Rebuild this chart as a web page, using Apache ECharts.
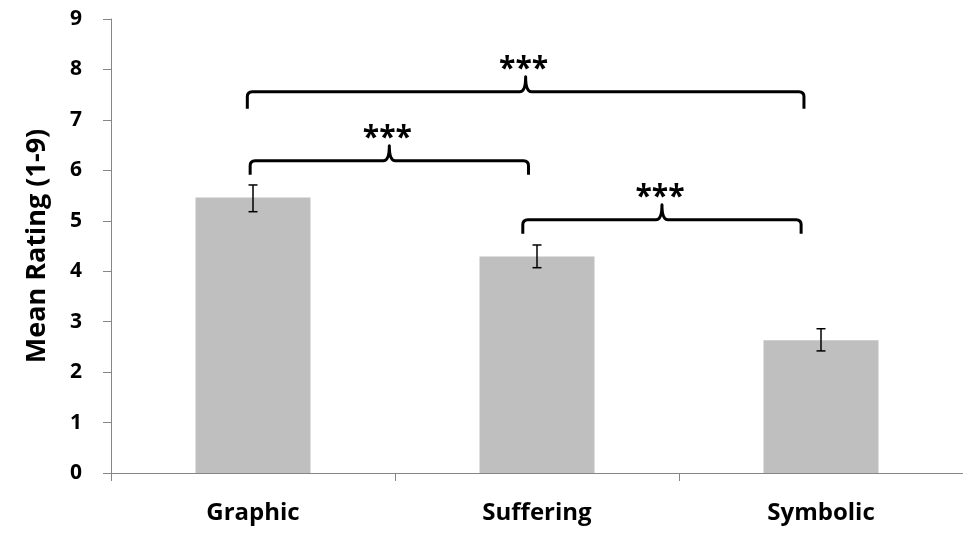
<!DOCTYPE html>
<html>
<head>
<meta charset="utf-8">
<script src="https://cdn.jsdelivr.net/npm/echarts@6/dist/echarts.min.js"></script>
<style>
html,body{margin:0;padding:0;background:#fff;}
#chart{width:963px;height:533px;}
</style>
</head>
<body>
<div id="chart"></div>
<script>
// ---- data ----
const categories = ['Graphic', 'Suffering', 'Symbolic'];
const means = [5.46, 4.29, 2.63];
const errLow = [5.18, 4.07, 2.42];
const errHigh = [5.71, 4.52, 2.86];
const yTicks = [0, 1, 2, 3, 4, 5, 6, 7, 8, 9];
// significance brackets: left end, right end (category units), height, label
const bracketFrom = [-0.02, -0.01, 0.95];
const bracketTo = [1.94, 0.97, 1.93];
const bracketY = [7.56, 6.19, 5.02];
const bracketLabels = ['***', '***', '***'];

const FONT = '"Open Sans"';
const chart = echarts.init(document.getElementById('chart'), null, {renderer: 'canvas'});

const errData = categories.map((c, i) => [i, errLow[i], errHigh[i]]);
const bracketData = bracketFrom.map((f, i) => [f, bracketTo[i], bracketY[i], i]);

chart.setOption({
  animation: false,
  backgroundColor: '#ffffff',
  grid: {left: 111, top: 19, width: 858, height: 454},
  xAxis: [{
    type: 'category',
    data: categories,
    axisLine: {lineStyle: {color: '#868686', width: 1}},
    axisTick: {show: true, length: 8, lineStyle: {color: '#868686'}},
    axisLabel: {color: '#000', fontFamily: FONT, fontWeight: 'bold', fontSize: 24, margin: 28}
  }, {
    type: 'value', min: -0.5, max: 2.5, show: false
  }],
  yAxis: {
    type: 'value', min: 0, max: 9, interval: 1,
    name: 'Mean Rating (1-9)',
    nameLocation: 'middle', nameGap: 60,
    nameTextStyle: {color: '#000', fontFamily: FONT, fontWeight: 'bold', fontSize: 27},
    axisLine: {show: true, onZero: false, lineStyle: {color: '#868686', width: 1}},
    axisTick: {show: true, length: 8, lineStyle: {color: '#868686'}},
    splitLine: {show: false},
    axisLabel: {color: '#000', fontFamily: FONT, fontWeight: 'bold', fontSize: 21, margin: 29,
      formatter: v => yTicks.includes(v) ? String(v) : ''}
  },
  series: [{
    type: 'bar',
    data: means,
    barWidth: 115,
    itemStyle: {color: '#bfbfbf'},
    z: 2
  }, {
    type: 'custom',
    xAxisIndex: 1,
    data: errData,
    z: 5,
    renderItem: function (params, api) {
      const lo = api.coord([api.value(0), api.value(1)]);
      const hi = api.coord([api.value(0), api.value(2)]);
      const w = 4.5;
      const st = {stroke: '#000', lineWidth: 1.5};
      return {type: 'group', children: [
        {type: 'line', shape: {x1: lo[0], y1: lo[1], x2: hi[0], y2: hi[1]}, style: st},
        {type: 'line', shape: {x1: lo[0] - w, y1: lo[1], x2: lo[0] + w, y2: lo[1]}, style: st},
        {type: 'line', shape: {x1: hi[0] - w, y1: hi[1], x2: hi[0] + w, y2: hi[1]}, style: st}
      ]};
    }
  }, {
    type: 'custom',
    xAxisIndex: 1,
    data: bracketData,
    z: 6,
    renderItem: function (params, api) {
      const a = api.coord([api.value(0), api.value(2)]);
      const b = api.coord([api.value(1), api.value(2)]);
      const idx = api.value(3);
      const x1 = a[0], x2 = b[0], y = a[1];
      const xm = (x1 + x2) / 2;
      const d = idx === 0 ? 17 : 14;
      const r = 5, h = 15, q = 6;
      const path = 'M' + x1 + ' ' + (y + d) +
        ' L' + x1 + ' ' + (y + r) +
        ' Q' + x1 + ' ' + y + ' ' + (x1 + r) + ' ' + y +
        ' L' + (xm - q) + ' ' + y +
        ' Q' + xm + ' ' + y + ' ' + xm + ' ' + (y - h) +
        ' Q' + xm + ' ' + y + ' ' + (xm + q) + ' ' + y +
        ' L' + (x2 - r) + ' ' + y +
        ' Q' + x2 + ' ' + y + ' ' + x2 + ' ' + (y + r) +
        ' L' + x2 + ' ' + (y + d);
      return {type: 'group', children: [
        {type: 'path', shape: {pathData: path},
          style: {stroke: '#000', lineWidth: 3, fill: null, lineJoin: 'round'}},
        {type: 'text', x: xm - 2, y: y - 22,
          style: {text: bracketLabels[idx], fill: '#000', font: 'bold 30px ' + FONT,
            textAlign: 'center', textVerticalAlign: 'middle'}}
      ]};
    }
  }]
});
</script>
</body>
</html>
